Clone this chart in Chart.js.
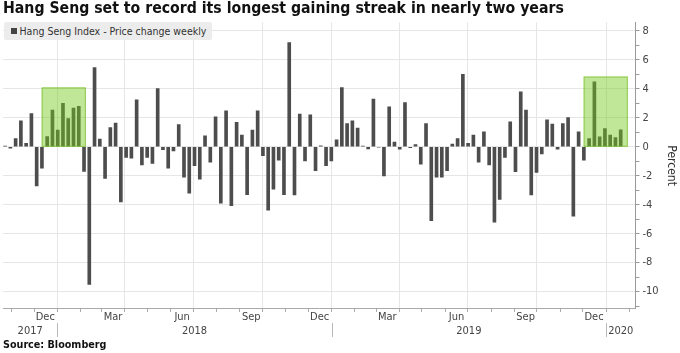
<!DOCTYPE html>
<html>
<head>
<meta charset="utf-8">
<script src="https://cdn.jsdelivr.net/npm/chart.js@4.4.1/dist/chart.umd.min.js"></script>
<style>
  html, body { margin: 0; padding: 0; background: #fff; }
  #wrap { position: relative; width: 680px; height: 353px; }
  #legend {
    position: absolute; left: 4px; top: 22px; width: 208px; height: 18px;
    background: #ececec; border-radius: 2px;
    display: flex; align-items: center;
    font: 10.5px "DejaVu Sans Condensed", "DejaVu Sans", sans-serif; color: #333;
    white-space: nowrap;
  }
  #legend i { display: inline-block; width: 6px; height: 6px; background: #444; margin: 0 2.5px 0 7px; }
</style>
</head>
<body>
<div id="wrap">
  <canvas id="chart" width="680" height="353"></canvas>
  <div id="legend"><i></i>Hang Seng Index - Price change weekly</div>
</div>
<script>
// --- DATA ---
// first bar = week ending Fri 20 Oct 2017, last = 17 Jan 2020
const firstWeek = [2017, 9, 20];
const weeklyChange = [
  0.05, -0.1, 0.57, 1.8, 0.23, 2.3, -2.7, -1.47, 0.7, 2.53,
  1.15, 3.0, 1.95, 2.67, 2.8, -1.7, -9.5, 5.47, 0.53, -2.18,
  1.33, 1.63, -3.8, -0.74, -0.78, 3.24, -1.26, -0.74, -1.15, 4.02,
  -0.2, -1.47, -0.28, 1.54, -2.1, -3.2, -1.31, -2.23, 0.76, -1.06,
  2.07, -3.9, 2.48, -4.07, 1.68, 0.8, -3.3, 1.15, 2.48, -0.62,
  -4.37, -2.92, -0.92, -3.3, 7.2, -3.33, 2.25, -0.97, 2.2, -1.65,
  0.07, -1.31, -0.97, 0.48, 4.09, 1.61, 1.8, 1.29, 0.05, -0.14,
  3.29, -0.03, -2.02, 2.76, 0.32, -0.16, 3.06, -0.07, 0.16, -1.2,
  1.61, -5.1, -2.1, -2.1, -1.65, 0.18, 0.57, 5.0, 0.23, 0.8,
  -1.06, 1.03, -1.26, -5.2, -3.63, -0.74, 1.72, -1.72, 3.79, 2.53,
  -3.33, -1.77, -0.5, 1.86, 1.56, -0.16, 1.61, 2.02, -4.8, 1.03,
  -0.92, 0.57, 4.48, 0.69, 1.26, 0.8, 0.64, 1.17
];

// highlighted gaining streaks (bar index) and box height (percent)
const streakStart = [8, 111];
const streakEnd = [14, 117];
const streakTop = [4.1, 4.85];

// tick labels
const monthLabels = { 11: 'Dec', 2: 'Mar', 5: 'Jun', 8: 'Sep' };
const yearLabels = ['2017', '2018', '2019', '2020'];
const yMin = -11.2, yMax = 8.6;

// --- helpers ---
const FONT = '"DejaVu Sans Condensed", "DejaVu Sans", sans-serif';
const WEEK = 7 * 864e5;
const t0 = Date.UTC(firstWeek[0], firstWeek[1], firstWeek[2]);
const posOf = t => (t - t0) / WEEK - 0.5;   // bars sit half a week after their date
const xMin = -0.4, xMax = weeklyChange.length + 1.8;

// x ticks: month boundaries (small marks, gridline each quarter),
// mid-month labels (1st line) and year labels (2nd line)
const xTicks = [];
const yearStarts = [];
yearLabels.forEach(yr => {
  for (let m = 0; m < 12; m++) {
    const p = posOf(Date.UTC(+yr, m, 1));
    if (p > xMin && p < xMax) xTicks.push({ value: p, kind: m % 3 === 0 ? 'q' : 'm', label: '' });
    if (monthLabels[m]) {
      const pl = posOf(Date.UTC(+yr, m, 16));
      if (pl > xMin && pl < xMax) xTicks.push({ value: pl, kind: 'l', label: monthLabels[m] });
    }
  }
  // year label centred on the visible part of the year
  const a = posOf(Date.UTC(+yr, 0, 1)), b = posOf(Date.UTC(+yr + 1, 0, 1));
  if (a > xMin) yearStarts.push(a);
  xTicks.push({ value: (Math.max(a, xMin) + Math.min(b, xMax)) / 2, kind: 'y', label: ['', yr] });
});
xTicks.sort((a, b) => a.value - b.value);

const overlays = {
  id: 'overlays',
  afterDatasetsDraw(chart) {
    const { ctx, scales: { x, y } } = chart;
    ctx.save();
    streakStart.forEach((s, k) => {
      const left = x.getPixelForValue(s - 1.05);
      const right = x.getPixelForValue(streakEnd[k] + 1.35);
      const top = y.getPixelForValue(streakTop[k]);
      const base = y.getPixelForValue(0);
      ctx.fillStyle = 'rgba(115, 200, 25, 0.45)';
      ctx.fillRect(left, top, right - left, base - top);
      ctx.strokeStyle = 'rgba(120, 190, 40, 0.7)';
      ctx.lineWidth = 1;
      ctx.strokeRect(left + 0.5, top + 0.5, right - left - 1, base - top - 1);
    });
    ctx.restore();
  },
  afterDraw(chart) {
    // thin separators between the years, in the year row
    const { ctx, scales: { x } } = chart;
    ctx.save();
    ctx.strokeStyle = '#b8b8b8';
    ctx.lineWidth = 1;
    yearStarts.forEach(p => {
      const px = Math.round(x.getPixelForValue(p)) + 0.5;
      ctx.beginPath();
      ctx.moveTo(px, x.top + 14);
      ctx.lineTo(px, x.top + 28);
      ctx.stroke();
    });
    ctx.restore();
  }
};

new Chart(document.getElementById('chart'), {
  type: 'bar',
  data: {
    datasets: [{
      label: 'Hang Seng Index - Price change weekly',
      data: weeklyChange.map((v, i) => ({ x: i, y: v })),
      backgroundColor: '#4d4d4d',
      borderWidth: 0,
      barThickness: 3
    }]
  },
  options: {
    responsive: false,
    animation: false,
    events: [],
    layout: { padding: { left: 3, right: 0, top: 0, bottom: 1.7 } },
    plugins: {
      legend: { display: false },
      tooltip: { enabled: false },
      title: {
        display: true,
        text: 'Hang Seng set to record its longest gaining streak in nearly two years',
        align: 'start',
        color: '#111',
        font: { family: FONT, size: 15.7, weight: 'bold' },
        padding: { top: 0, bottom: 3.4 }
      },
      subtitle: {
        display: true,
        position: 'bottom',
        text: 'Source: Bloomberg',
        align: 'start',
        color: '#111',
        font: { family: FONT, size: 10.7, weight: 'bold' },
        padding: { top: 2, bottom: 0 }
      }
    },
    scales: {
      x: {
        type: 'linear',
        bounds: 'data',
        offset: false,
        min: xMin,
        max: xMax,
        afterBuildTicks: s => {
          s.min = xMin;
          s.max = xMax;
          s.ticks = xTicks.map(t => ({ value: t.value }));
        },
        ticks: {
          autoSkip: false,
          maxRotation: 0,
          padding: -1.5,
          color: '#444',
          font: { family: FONT, size: 11, lineHeight: 1.25 },
          callback: (v, i) => xTicks[i] ? xTicks[i].label : ''
        },
        grid: {
          offset: false,
          color: c => (xTicks[c.index] && xTicks[c.index].kind === 'q') ? '#e6e6e6' : 'rgba(0,0,0,0)',
          tickColor: c => (xTicks[c.index] && (xTicks[c.index].kind === 'q' || xTicks[c.index].kind === 'm')) ? '#aaa' : 'rgba(0,0,0,0)',
          tickLength: 3
        },
        border: { display: true, color: '#aaa' }
      },
      y: {
        type: 'linear',
        position: 'right',
        min: yMin,
        max: yMax,
        afterBuildTicks: s => {
          const t = [];
          for (let v = Math.ceil(yMin); v <= Math.floor(yMax); v++) t.push({ value: v });
          s.ticks = t;
        },
        ticks: {
          autoSkip: false,
          padding: 3,
          color: '#444',
          font: { family: FONT, size: 11 },
          callback: v => (v % 2 === 0 && v >= -10) ? String(v) : ''
        },
        grid: {
          color: c => (c.tick && c.tick.value % 2 === 0) ? '#e6e6e6' : 'rgba(0,0,0,0)',
          tickColor: '#999',
          tickLength: 4
        },
        border: { display: true, color: '#999' },
        title: {
          display: true,
          text: 'Percent',
          color: '#333',
          font: { family: FONT, size: 12 },
          padding: { top: 2, bottom: 2 }
        }
      }
    }
  },
  plugins: [overlays]
});
</script>
</body>
</html>
